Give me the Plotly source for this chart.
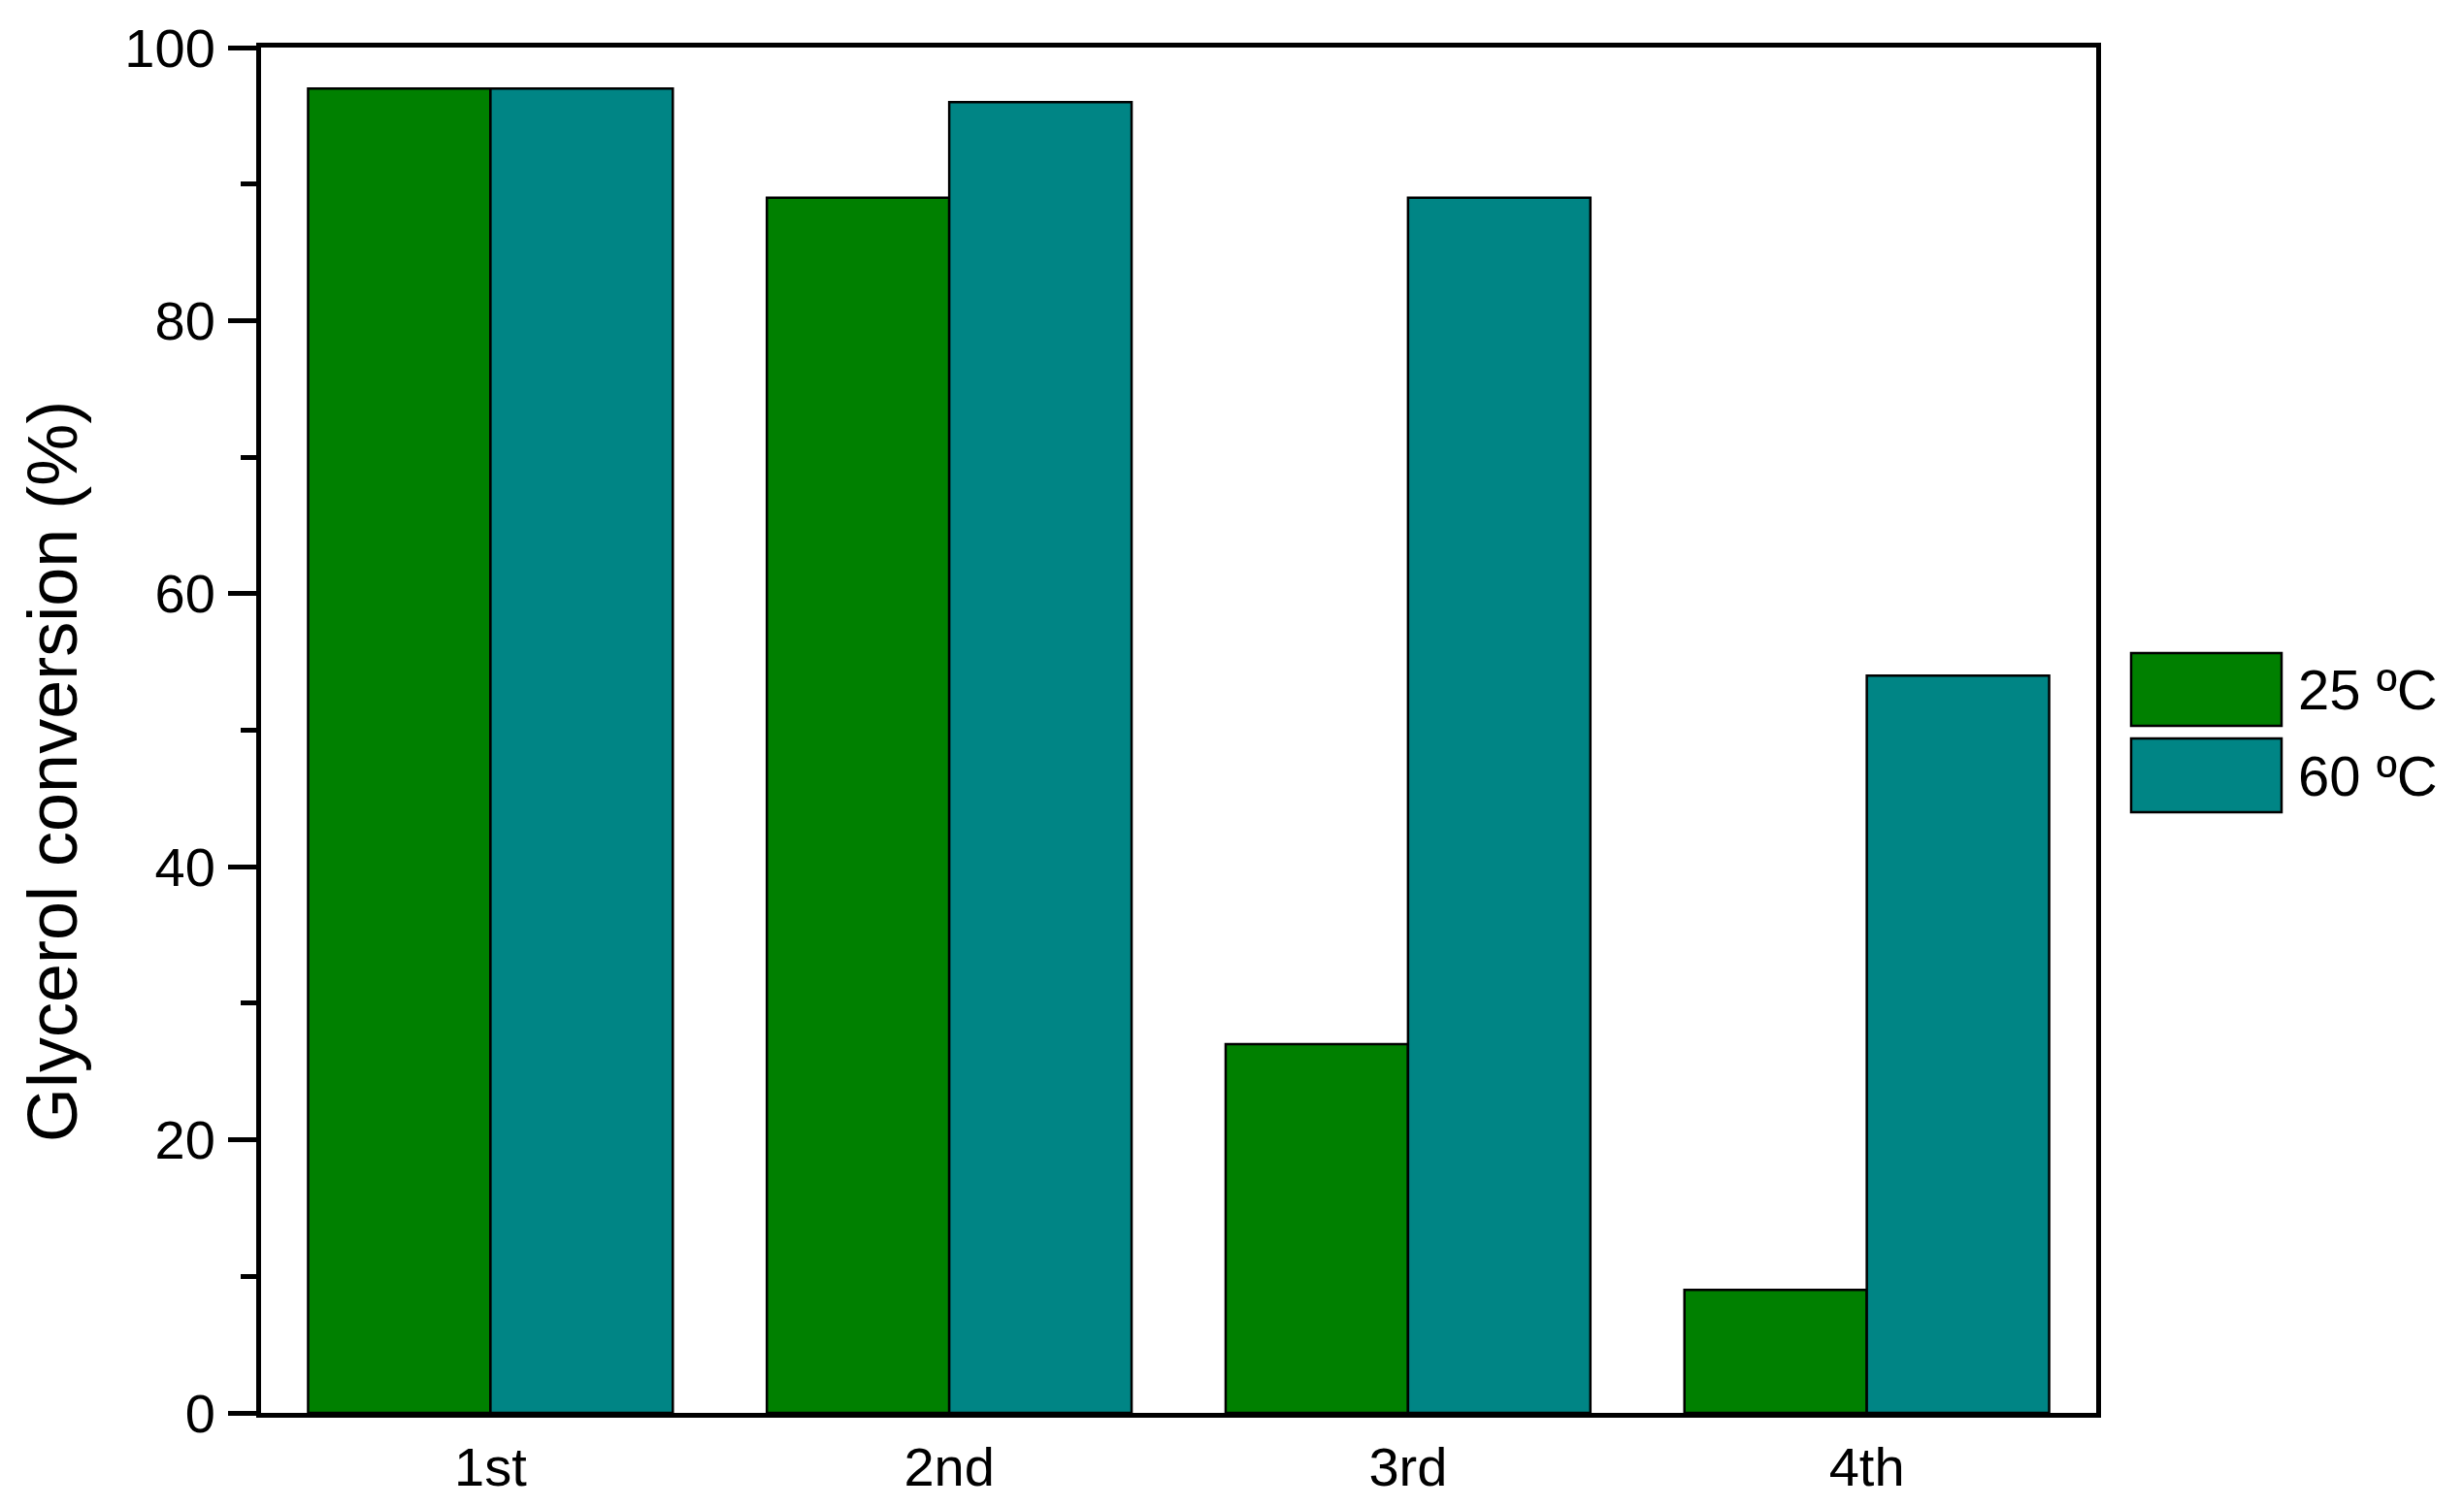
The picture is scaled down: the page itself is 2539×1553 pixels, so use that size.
import plotly.graph_objects as go

cycles = ["1st", "2nd", "3rd", "4th"]
series_names = ["25 ºC", "60 ºC"]
conv_25 = [97, 89, 27, 9]
conv_60 = [97, 96, 89, 54]
y_ticks = [0, 20, 40, 60, 80, 100]
y_title = "Glycerol conversion (%)"

colors = ["#008000", "#008585"]
FONT = "Liberation Sans, Arial, sans-serif"

fig = go.Figure()
for name, vals, col in zip(series_names, [conv_25, conv_60], colors):
    fig.add_trace(go.Bar(
        x=cycles, y=vals, name=name,
        marker=dict(color=col, line=dict(color="black", width=2.5)),
        showlegend=False,
    ))

# custom legend with large swatches
L, T, B = 269, 49, 1456
W, H = 2160 - 269, 1456 - 49
def px(x):
    return (x - L) / W
def py(y):
    return (B - y) / H

boxes = [(673, 748), (761, 837)]
for (y0, y1), name, col in zip(boxes, series_names, colors):
    fig.add_shape(type="rect", xref="paper", yref="paper",
                  x0=px(2196), x1=px(2351), y0=py(y1), y1=py(y0),
                  fillcolor=col, line=dict(color="black", width=2.5))
    fig.add_annotation(xref="paper", yref="paper", x=px(2366), y=py((y0 + y1) / 2),
                       text=name, showarrow=False, xanchor="left", yanchor="middle",
                       font=dict(family=FONT, size=58, color="black"))

# y-axis title
fig.add_annotation(xref="paper", yref="paper", x=px(54), y=py(795), text=y_title,
                   textangle=-90, showarrow=False, xanchor="center", yanchor="middle",
                   font=dict(family=FONT, size=72, color="black"))

fig.update_layout(
    width=2539, height=1553,
    margin=dict(l=L, r=2539 - 2160, t=T, b=1553 - B, autoexpand=False),
    paper_bgcolor="white", plot_bgcolor="white",
    barmode="group", bargap=0.205, bargroupgap=0,
    font=dict(family=FONT, color="black"),
)
fig.update_xaxes(
    range=[-0.5, 3.5], showline=True, linecolor="black", linewidth=5, mirror=True,
    ticks="", showgrid=False, tickfont=dict(size=56, family=FONT), ticklabelstandoff=3,
)
fig.update_yaxes(
    range=[0, 100], tickvals=y_ticks, showline=True, linecolor="black", linewidth=5,
    mirror=True, ticks="outside", ticklen=29, tickwidth=5, tickcolor="black",
    minor=dict(dtick=10, ticks="outside", ticklen=16, tickwidth=5, tickcolor="black"),
    showgrid=False, zeroline=False, tickfont=dict(size=56, family=FONT), ticklabelstandoff=2,
)

fig.write_html("out.html", config={"displayModeBar": False},
               post_script="document.body.style.margin='0';document.body.style.overflow='hidden';")
